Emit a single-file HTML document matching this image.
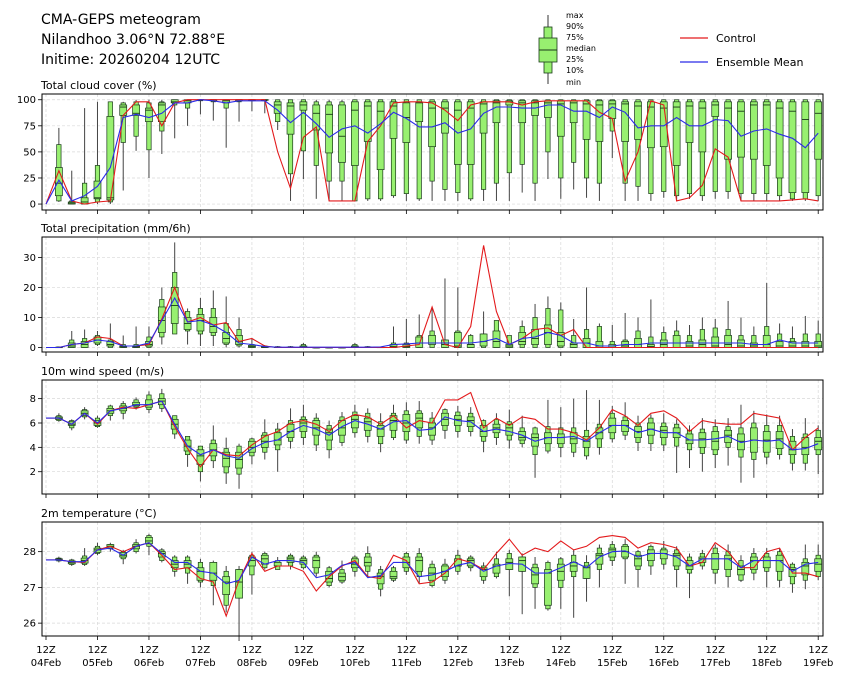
<!DOCTYPE html>
<html><head><meta charset="utf-8"><style>
html,body{margin:0;padding:0;background:#fff;}
svg text{font-family:"DejaVu Sans","Liberation Sans",sans-serif;fill:#000;}
</style></head><body>
<svg id="chart" width="845" height="681" viewBox="0 0 845 681" xmlns="http://www.w3.org/2000/svg">
<g>
<text x="41" y="24" font-size="14">CMA-GEPS meteogram</text>
<text x="41" y="44" font-size="14">Nilandhoo 3.06°N 72.88°E</text>
<text x="41" y="64" font-size="14">Initime: 20260204 12UTC</text>
</g>
<g>
<line x1="548" y1="15" x2="548" y2="84" stroke="#333" stroke-width="1"/>
<rect x="544" y="27" width="8" height="46" fill="#98f070" stroke="#1a3a1a" stroke-width="0.8"/>
<rect x="539" y="38" width="18" height="24" fill="#98f070" stroke="#1a3a1a" stroke-width="0.8"/>
<line x1="539" y1="50" x2="557" y2="50" stroke="#1a3a1a" stroke-width="1"/>
<text x="566" y="18" font-size="8">max</text>
<text x="566" y="29" font-size="8">90%</text>
<text x="566" y="40" font-size="8">75%</text>
<text x="566" y="51" font-size="8">median</text>
<text x="566" y="62" font-size="8">25%</text>
<text x="566" y="73" font-size="8">10%</text>
<text x="566" y="85" font-size="8">min</text>
</g>
<g>
<line x1="680" y1="38" x2="708" y2="38" stroke="#e31a1c" stroke-width="1.2"/>
<text x="716" y="42" font-size="11">Control</text>
<line x1="680" y1="62" x2="708" y2="62" stroke="#2a2ae8" stroke-width="1.2"/>
<text x="716" y="66" font-size="11">Ensemble Mean</text>
</g>
<g id="plots"></g>
</svg>
<script>
// ---- Data (index = 6-hourly step from 2026-02-04 12Z) ----
const dayLabels = ["04Feb","05Feb","06Feb","07Feb","08Feb","09Feb","10Feb","11Feb","12Feb","13Feb","14Feb","15Feb","16Feb","17Feb","18Feb","19Feb"];

// Cloud cover
const ccCtrl = [0,32,3,0,2,3,85,98,98,75,97,100,100,100,100,100,100,100,50,15,64,74,3,3,3,60,75,97,98,98,97,90,80,95,98,98,98,95,98,99,99,99,99,88,82,22,50,99,95,3,6,18,53,45,3,3,3,3,4,5,3];
const ccMean = [0,23,3,8,17,35,83,86,83,87,97,97,100,99,97,99,99,99,90,78,88,77,64,72,75,68,77,88,82,74,74,78,68,72,87,93,93,92,92,95,95,89,89,83,93,88,73,75,75,83,75,75,81,80,65,70,72,67,63,54,68];
const ccMin = [null,2,0,0,0,0,13,51,25,48,63,75,86,80,54,79,89,87,71,3,24,5,3,3,3,3,3,6,3,3,3,3,3,3,3,3,3,11,3,24,5,14,6,3,44,3,3,3,6,3,5,3,5,5,3,3,3,3,3,3,3];
const ccP10 = [null,3,0,0,2,2,59,65,52,70,95,92,99,98,92,98,99,99,79,29,51,37,22,22,3,5,5,8,10,5,22,14,11,5,14,20,30,38,20,50,25,40,25,20,70,20,17,10,12,8,10,8,12,12,10,10,10,8,5,5,8];
const ccP25 = [null,8,0,0,5,4,85,85,79,79,97,97,100,99,97,99,100,100,87,67,90,71,49,40,37,60,33,63,59,79,55,68,38,38,68,78,95,78,85,83,65,78,62,60,82,60,62,54,55,37,59,50,84,43,45,43,37,25,11,11,43];
const ccP50 = [null,20,1,2,6,6,93,87,90,95,98,99,100,100,99,100,100,100,95,94,95,87,86,65,90,94,89,94,83,97,92,92,90,92,96,97,98,97,97,97,96,97,96,95,96,96,94,93,92,93,94,92,95,92,89,95,95,92,89,81,87];
const ccP75 = [null,35,2,6,22,84,95,95,92,97,100,100,100,100,100,100,100,100,98,97,98,95,95,95,98,98,98,98,97,98,98,98,98,98,98,99,99,99,99,99,99,99,99,99,99,98,98,98,98,98,98,98,98,98,98,98,98,98,98,98,98];
const ccP90 = [null,57,3,20,37,98,97,98,97,98,100,100,100,100,100,100,100,100,100,100,100,98,98,98,100,100,100,100,100,100,100,100,100,100,100,100,100,100,100,100,100,100,100,100,100,100,100,100,100,100,100,100,100,100,100,100,100,100,100,100,100];
const ccMax = [null,73,32,92,98,98,98,100,100,100,100,100,100,100,100,100,100,100,100,100,100,100,100,100,100,100,100,100,100,100,100,100,100,100,100,100,100,100,100,100,100,100,100,100,100,100,100,100,100,100,100,100,100,100,100,100,100,100,100,100,100];

// Precipitation
const prCtrl = [0,0,1,1.5,3.5,3,0.5,0.5,1,9.5,20,8.5,10,7.5,8.3,2,3,0.5,0,0,0,0,0,0,0,0,0,0,0.5,1,13.5,1,0,7,34,12,1,3,6,6.5,4,6,0,0,0,0,0,0,0,0,0,0,0,0,0,0,0,0,0,0,0];
const prMean = [0,0,1,1.5,2.5,2,0.5,0.5,1.5,9,16.5,8.5,9,7.5,5,1.5,1,0.3,0.1,0.1,0.1,0.1,0.1,0.1,0.1,0.1,0.2,1,1.2,1.5,1.5,1.5,1.5,1.5,2,3,1,3,3.5,5,4,1.5,1.5,0.5,0.5,1,1,1.5,1.5,1.5,1.5,1.5,1.5,1.5,1.5,1,1,2.5,1.5,1.5,1.5];
const prMin = [null,0,0,0,0.5,0,0,0,0,1,4.5,1,0.5,0.5,0,0,0,0,0,0,0,0,0,0,0,0,0,0,0,0,0,0,0,0,0,0,0,0,0,0,0,0,0,0,0,0,0,0,0,0,0,0,0,0,0,0,0,0,0,0,0];
const prP10 = [null,0,0,0,1,0,0,0,0,3.5,4.5,5.5,4.5,4,1,0.5,0,0,0,0,0,0,0,0,0,0,0,0,0,0,0,0,0,0,0,0,0,0,0,0,0,0,0,0,0,0,0,0,0,0,0,0,0,0,0,0,0,0,0,0,0];
const prP25 = [null,0,0,0,1.5,0.5,0,0,0.5,5,8,6,5.5,5,1.5,1,0,0,0,0,0,0,0,0,0,0,0,0,0,0,1,0,0,0,0.5,0,0,1,1,1,0.5,0,0,0,0,0,0,0,0,0,0,0,0,0,0,0,0,0,0,0,0];
const prP50 = [null,0,0.5,1,2.5,1,0.2,0.2,1,9,14,8,9,7,3,2,0.3,0.1,0,0,0.2,0,0,0,0.2,0,0,0.3,0.3,1.5,1.5,1,0.5,1,2,2,0.5,2,3,5,2,1,1.5,0.5,0.5,0.5,1,0.3,1,1.5,0.5,1,0.5,1,0.5,0.5,1,0.5,0.5,0.5,0.5];
const prP75 = [null,0.1,1.5,2,3.5,2,0.5,0.5,2,13.5,20,10,11,10,5,4,0.7,0.3,0.2,0.2,0.5,0,0,0,0.5,0.2,0.1,1,1,3.5,4,2.5,5,1,4.5,5.5,1,5,6,7.5,5,1.5,3,2,1,2,3,1,2.5,4,2,2.5,3.5,4,2.5,1.5,4,2,2,2,2];
const prP90 = [null,0.2,2.5,3,4,2.5,1,1,3.5,16,25,12,13,13,8,6,1,0.5,0.3,0.3,1,0,0,0,1,0.3,0.2,1.5,1.5,4,5.5,2.5,5.5,4,4.5,9,4,7,10,13,12.5,4,6,7,2,2.5,5.5,3.5,5,5.5,4,6,6.5,6,4,4,7,4.5,3,4.5,4.5];
const prMax = [null,0.2,5.5,6,5.5,8,4,7,7,20,35,13,16.5,19,17,10,3,0.8,0.5,0.5,1.5,0,0,0,1.5,0.5,0.3,7,9.5,11,13,23,20,4.5,12,9,3.5,9,14.5,17,15,9.5,20,8,7.5,11.5,10,16,7,9,7.5,10,9.5,15.5,10,7,21.5,8,7,10.5,9];

// Wind speed
const wsCtrl = [6.4,6.4,5.9,6.8,5.9,7.0,7.3,7.2,7.5,7.8,5.7,3.9,2.4,3.8,3.4,3.3,4.2,4.9,5.3,6.0,6.2,5.9,5.3,6.2,6.7,6.5,5.9,6.6,5.6,6.2,6.0,7.9,7.9,8.5,5.6,6.4,5.8,6.5,6.3,5.5,5.5,5.2,4.6,5.6,7.1,6.6,5.8,6.8,7.0,6.4,5.3,6.2,6.0,5.9,5.9,6.8,6.6,6.4,3.8,4.8,5.6];
const wsMean = [6.4,6.4,5.9,6.8,6.0,7.0,7.2,7.5,7.5,7.8,5.9,4.1,3.4,3.8,3.3,3.1,3.9,4.4,4.6,5.3,5.8,5.5,5.0,5.7,6.2,5.9,5.5,6.1,6.2,5.4,5.5,6.5,6.2,6.1,5.3,5.5,5.3,5.0,4.5,4.8,4.8,4.9,4.5,5.2,5.8,5.8,5.2,5.5,5.2,5.2,4.6,4.6,4.7,4.9,4.4,4.6,4.5,4.6,3.8,3.9,4.3];
const wsMin = [null,6.1,5.4,6.3,5.6,6.2,6.3,7.1,6.8,6.9,4.7,2.4,1.2,2.3,1.0,0.6,2.6,3.0,2.0,3.9,4.2,3.7,3.1,4.1,4.8,4.4,3.6,4.6,4.3,4.3,4.2,4.7,4.8,4.9,3.6,4.2,3.9,4.0,1.5,3.5,3.2,3.2,3.0,3.4,4.4,4.6,3.7,3.7,3.7,1.9,2.3,2.0,2.3,2.5,1.1,1.5,2.6,3.0,2.1,2.1,1.8];
const wsP10 = [null,6.2,5.6,6.5,5.7,6.6,6.8,7.3,7.1,7.2,5.1,3.4,2.0,2.9,1.9,1.8,3.3,3.6,3.8,4.5,4.8,4.2,3.8,4.4,5.2,4.9,4.3,4.8,4.6,4.9,4.6,5.4,5.3,5.3,4.5,4.8,4.6,4.3,3.4,3.7,4.0,3.6,3.3,4.0,4.7,5.0,4.4,4.3,4.2,4.1,3.8,3.5,3.4,4.0,3.2,3.0,3.2,3.4,2.7,2.7,3.4];
const wsP25 = [null,6.3,5.8,6.6,5.8,6.8,7.0,7.4,7.3,7.5,5.5,3.7,2.6,3.3,2.4,2.3,3.6,4.0,4.2,4.8,5.3,5.0,4.6,5.0,5.6,5.4,4.9,5.4,5.3,5.6,5.0,5.8,5.8,5.7,4.9,5.2,5.0,4.6,4.1,4.3,4.3,4.3,4.0,4.7,5.2,5.3,4.8,5.0,4.8,4.8,4.3,4.0,3.8,4.4,3.8,3.6,3.6,3.9,3.4,3.4,3.8];
const wsP50 = [null,6.4,5.9,6.8,6.0,7.0,7.2,7.5,7.5,7.8,5.9,4.1,3.3,3.8,3.1,3.0,4.0,4.5,4.6,5.3,6.0,5.6,5.2,5.6,6.3,6.1,5.5,6.2,6.0,6.4,5.6,6.3,6.3,6.2,5.3,5.6,5.6,4.8,4.8,4.8,4.8,4.7,4.5,5.2,5.8,5.8,5.3,5.5,5.4,5.2,4.6,4.7,4.5,5.0,4.5,4.6,4.6,4.7,3.8,4.0,4.5];
const wsP75 = [null,6.5,6.1,7.0,6.2,7.2,7.4,7.7,7.9,8.0,6.3,4.6,3.8,4.3,3.6,3.6,4.5,5.0,5.2,5.9,6.3,6.2,5.5,6.2,6.6,6.4,5.8,6.6,6.7,6.8,6.0,6.8,6.6,6.5,5.8,5.9,5.9,5.3,5.1,5.2,5.1,5.2,4.9,5.6,6.4,6.2,5.7,6.0,5.7,5.6,5.1,5.2,5.3,5.4,5.1,5.6,5.3,5.3,4.5,4.8,4.8];
const wsP90 = [null,6.6,6.2,7.1,6.4,7.4,7.6,7.9,8.3,8.4,6.6,4.9,4.1,4.6,3.9,4.1,4.7,5.2,5.5,6.2,6.5,6.4,5.8,6.5,6.9,6.8,6.1,6.8,7.0,7.0,6.4,7.1,6.9,6.8,6.2,6.3,6.1,5.6,5.6,5.7,5.6,5.6,5.4,5.9,6.8,6.5,6.0,6.4,6.0,5.9,5.4,5.5,5.7,5.7,5.6,6.0,5.8,5.8,4.9,5.1,5.4];
const wsMax = [null,6.8,6.3,7.3,6.6,7.5,7.8,8.1,8.6,8.8,6.6,4.9,4.1,5.8,4.8,4.3,4.8,6.3,6.0,7.2,7.5,6.8,6.2,6.9,7.5,7.2,6.8,7.5,7.7,7.8,6.9,7.2,7.4,7.3,6.3,6.8,7.1,6.6,5.7,7.9,7.3,8.0,8.7,7.9,7.4,7.7,6.6,6.7,6.8,6.3,5.8,6.4,6.3,6.4,7.5,7.0,6.7,6.6,5.5,6.4,5.8];

// 2m temperature
const tCtrl = [27.77,27.77,27.72,27.7,28.05,28.15,28.0,28.15,28.25,27.9,27.5,27.55,27.25,27.15,26.2,27.2,27.95,27.45,27.6,27.6,27.45,26.9,27.3,27.6,27.75,27.3,27.25,27.9,27.75,27.1,27.15,27.4,27.8,27.7,27.5,27.95,28.35,27.9,28.1,28.0,28.3,28.05,28.15,28.4,28.45,28.4,28.1,28.25,28.2,28.1,27.6,27.7,28.25,28.0,27.55,27.55,28.0,28.1,27.4,27.4,27.3];
const tMean = [27.77,27.77,27.72,27.72,28.05,28.1,27.9,28.15,28.25,27.95,27.7,27.7,27.45,27.4,27.1,27.2,27.85,27.65,27.75,27.75,27.7,27.27,27.35,27.62,27.7,27.27,27.33,27.7,27.7,27.3,27.35,27.45,27.62,27.7,27.45,27.6,27.67,27.65,27.4,27.4,27.55,27.72,27.55,27.85,28.0,28.02,27.85,27.95,27.95,27.85,27.6,27.8,27.8,27.8,27.55,27.75,27.75,27.75,27.45,27.65,27.7];
const tMin = [null,27.7,27.6,27.6,27.9,28.0,27.65,27.95,27.9,27.7,27.3,27.1,27.0,26.5,26.3,25.5,26.8,27.5,27.5,27.5,27.5,27.3,27.0,27.1,27.3,27.3,26.75,27.15,27.35,27.1,27.0,27.1,27.35,27.45,27.1,27.25,26.75,26.25,26.4,26.35,26.4,26.15,26.6,27.0,27.6,27.1,27.0,27.35,27.5,27.0,26.7,27.5,27.1,27.0,27.15,27.2,27.0,27.0,26.85,26.95,27.2];
const tP10 = [null,27.74,27.64,27.64,27.95,28.08,27.8,28.0,28.15,27.75,27.45,27.4,27.15,27.05,26.5,26.7,27.35,27.55,27.5,27.6,27.55,27.4,27.05,27.15,27.45,27.45,26.95,27.2,27.45,27.3,27.05,27.2,27.45,27.55,27.2,27.3,27.5,27.45,27.0,26.4,27.0,27.3,27.25,27.5,27.75,27.8,27.5,27.6,27.65,27.5,27.4,27.6,27.4,27.3,27.2,27.4,27.45,27.2,27.1,27.2,27.3];
const tP25 = [null,27.76,27.66,27.68,27.98,28.1,27.85,28.08,28.22,27.85,27.55,27.55,27.2,27.2,26.8,26.7,27.6,27.65,27.6,27.7,27.65,27.55,27.15,27.2,27.55,27.6,27.1,27.25,27.55,27.45,27.2,27.3,27.6,27.6,27.3,27.4,27.5,27.45,27.1,26.5,27.2,27.45,27.25,27.65,27.85,27.85,27.6,27.75,27.8,27.6,27.5,27.7,27.5,27.5,27.35,27.5,27.55,27.45,27.3,27.35,27.45];
const tP50 = [null,27.78,27.7,27.75,28.05,28.15,27.9,28.15,28.3,27.95,27.65,27.65,27.45,27.4,27.15,27.15,27.75,27.8,27.6,27.8,27.75,27.75,27.25,27.3,27.65,27.7,27.3,27.3,27.7,27.75,27.4,27.45,27.6,27.75,27.5,27.6,27.7,27.75,27.35,27.4,27.45,27.6,27.55,27.9,28.05,28.0,27.8,27.95,27.95,27.9,27.6,27.8,27.8,27.8,27.5,27.75,27.75,27.75,27.5,27.6,27.65];
const tP75 = [null,27.8,27.74,27.82,28.1,28.2,27.98,28.2,28.4,28.0,27.75,27.75,27.55,27.7,27.3,27.5,27.85,27.9,27.7,27.85,27.8,27.85,27.45,27.4,27.8,27.85,27.4,27.45,27.85,27.85,27.55,27.6,27.8,27.8,27.55,27.65,27.8,27.85,27.55,27.5,27.65,27.7,27.6,27.95,28.1,28.15,27.9,28.05,28.05,27.95,27.75,27.85,27.95,27.9,27.6,27.85,27.85,27.9,27.55,27.7,27.8];
const tP90 = [null,27.82,27.77,27.88,28.15,28.2,28.0,28.25,28.45,28.05,27.85,27.85,27.7,27.7,27.45,27.5,27.9,27.95,27.75,27.9,27.85,27.9,27.55,27.5,27.85,27.95,27.5,27.55,27.95,27.95,27.65,27.65,27.9,27.85,27.6,27.8,27.95,27.85,27.65,27.7,27.8,27.9,27.7,28.1,28.2,28.2,28.0,28.15,28.1,28.05,27.85,27.95,28.1,28.0,27.75,27.95,27.95,28.0,27.65,27.8,27.9];
const tMax = [null,27.86,27.8,28.1,28.25,28.25,28.05,28.35,28.5,28.1,27.9,27.9,27.8,27.75,27.6,27.6,28.0,28.0,27.85,27.95,27.9,28.0,27.6,27.75,27.9,28.15,27.6,27.6,28.0,28.1,27.75,27.8,28.05,27.9,27.7,28.0,28.05,27.95,27.85,27.75,27.85,28.05,27.9,28.2,28.3,28.35,28.05,28.2,28.3,28.15,27.95,28.05,28.2,28.2,27.9,28.1,28.1,28.1,27.7,28.2,28.2];

// ---- Drawing ----
const NS = "http://www.w3.org/2000/svg";
const plots = document.getElementById('plots');
const X0 = 42, X1 = 823;
function xOf(i){ return 46 + i * 12.87; }
function mk(tag, attrs, parent){
  const e = document.createElementNS(NS, tag);
  for (const k in attrs) e.setAttribute(k, attrs[k]);
  parent.appendChild(e);
  return e;
}
const panels = [
  {key:'cloud', title:'Total cloud cover (%)', top:94, bot:210, vmin:-5.7, vmax:105.5, ticks:[0,25,50,75,100],
   ctrl:ccCtrl, mean:ccMean, mn:ccMin, p10:ccP10, p25:ccP25, p50:ccP50, p75:ccP75, p90:ccP90, mx:ccMax},
  {key:'precip', title:'Total precipitation (mm/6h)', top:237, bot:352, vmin:-1.5, vmax:36.8, ticks:[0,10,20,30],
   ctrl:prCtrl, mean:prMean, mn:prMin, p10:prP10, p25:prP25, p50:prP50, p75:prP75, p90:prP90, mx:prMax},
  {key:'wind', title:'10m wind speed (m/s)', top:380, bot:494, vmin:0.17, vmax:9.53, ticks:[2,4,6,8],
   ctrl:wsCtrl, mean:wsMean, mn:wsMin, p10:wsP10, p25:wsP25, p50:wsP50, p75:wsP75, p90:wsP90, mx:wsMax},
  {key:'temp', title:'2m temperature (°C)', top:522, bot:636, vmin:25.64, vmax:28.83, ticks:[26,27,28],
   ctrl:tCtrl, mean:tMean, mn:tMin, p10:tP10, p25:tP25, p50:tP50, p75:tP75, p90:tP90, mx:tMax}
];
panels.forEach((p, pi) => {
  const g = mk('g', {}, plots);
  
  
  const y = v => p.bot - (v - p.vmin) / (p.vmax - p.vmin) * (p.bot - p.top);
  const t = mk('text', {x:41, y:p.top - 5, 'font-size':11}, g);
  t.textContent = p.title;
  
  
  for (let d = 0; d < dayLabels.length; d++) {
    const gx = xOf(d * 4);
    const gl = mk('line', {x1:gx, x2:gx, y1:p.top, y2:p.bot, stroke:'#d8d8d8', 'stroke-width':0.7, 'stroke-dasharray':'3,2'}, g);
    
    
    mk('line', {x1:gx, x2:gx, y1:p.bot, y2:p.bot + 4, stroke:'#000', 'stroke-width':0.8}, g);
  }
  p.ticks.forEach(tv => {
    const ty = y(tv);
    const gl = mk('line', {x1:X0, x2:X1, y1:ty, y2:ty, stroke:'#d8d8d8', 'stroke-width':0.7, 'stroke-dasharray':'3,2'}, g);
    
    
    mk('line', {x1:X0 - 4, x2:X0, y1:ty, y2:ty, stroke:'#000', 'stroke-width':0.8}, g);
    const tl = mk('text', {x:X0 - 6, y:ty + 3.5, 'font-size':10, 'text-anchor':'end'}, g);
    tl.textContent = tv;
    
    
  });
  for (let i = 0; i < p.p50.length; i++) {
    if (p.p50[i] === null) continue;
    const cx = xOf(i);
    const bg = mk('g', {}, g);
    
    
    mk('line', {x1:cx, x2:cx, y1:y(p.mn[i]), y2:y(p.mx[i]), stroke:'#444', 'stroke-width':1}, bg);
    const y90 = y(p.p90[i]), y10 = y(p.p10[i]);
    mk('rect', {x:cx - 2.2, y:y90, width:4.4, height:Math.max(0.5, y10 - y90), fill:'#98f070', stroke:'#1a3a1a', 'stroke-width':0.7}, bg);
    const y75 = y(p.p75[i]), y25 = y(p.p25[i]);
    mk('rect', {x:cx - 3.5, y:y75, width:7, height:Math.max(0.5, y25 - y75), fill:'#98f070', stroke:'#1a3a1a', 'stroke-width':0.7}, bg);
    const ym = y(p.p50[i]);
    mk('line', {x1:cx - 3.5, x2:cx + 3.5, y1:ym, y2:ym, stroke:'#1a3a1a', 'stroke-width':0.9}, bg);
  }
  const pts = arr => arr.map((v, i) => xOf(i).toFixed(1) + ',' + y(v).toFixed(1)).join(' ');
  const cl = mk('polyline', {points:pts(p.ctrl), fill:'none', stroke:'#e31a1c', 'stroke-width':1.1}, g);
  
  
  const ml = mk('polyline', {points:pts(p.mean), fill:'none', stroke:'#2a2ae8', 'stroke-width':1.1}, g);
  
  
  const fr = mk('rect', {x:X0, y:p.top, width:X1 - X0, height:p.bot - p.top, fill:'none', stroke:'#000', 'stroke-width':1}, g);
  
  
  if (pi === panels.length - 1) {
    dayLabels.forEach((dl, d) => {
      const tx = xOf(d * 4);
      const a = mk('text', {x:tx, y:p.bot + 17, 'font-size':10, 'text-anchor':'middle'}, g);
      a.textContent = '12Z';
      
      
      const b = mk('text', {x:tx, y:p.bot + 30, 'font-size':10, 'text-anchor':'middle'}, g);
      b.textContent = dl;
      
      
    });
  }
});
</script>
</body></html>
